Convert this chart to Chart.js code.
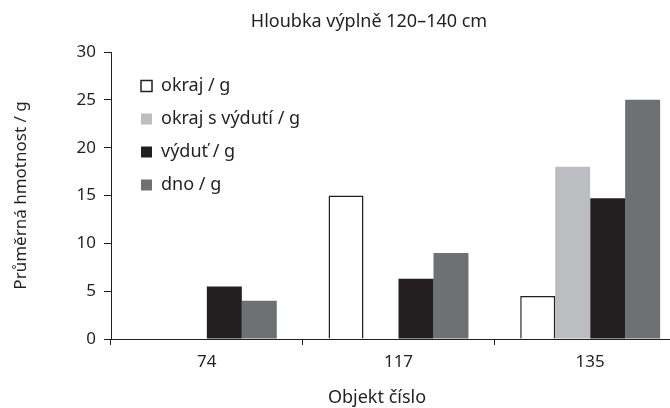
<!DOCTYPE html>
<html lang="cs">
<head>
<meta charset="UTF-8">
<title>Hloubka výplně 120–140 cm</title>
<script src="https://cdn.jsdelivr.net/npm/chart.js@4.4.0/dist/chart.umd.min.js"></script>
<style>
  html, body { margin: 0; padding: 0; overflow: hidden; background: #fff; }
  #wrap { width: 690px; height: 408px; }
</style>
</head>
<body>
<div id="wrap"><canvas id="chart"></canvas></div>
<script>
// data
const categories = ['74', '117', '135'];
const seriesNames = ['okraj / g', 'okraj s výdutí / g', 'výduť / g', 'dno / g'];
const okraj = [null, 15, 4.5];
const okrajVydut = [null, null, 18];
const vydut = [5.5, 6.3, 14.7];
const dno = [4, 9, 25];
const chartTitle = 'Hloubka výplně 120–140 cm';
const xTitle = 'Objekt číslo';
const yTitle = 'Průměrná hmotnost / g';

const ink = '#231f20';
const font = 'Noto Sans';

// titles placed as in the original figure (not centred on the plot)
const textPlugin = {
    id: 'texts',
    afterDraw(chart) {
        const ctx = chart.ctx;
        ctx.save();
        ctx.fillStyle = ink;
        ctx.textAlign = 'center';
        ctx.textBaseline = 'middle';
        ctx.font = '18px "' + font + '"';
        ctx.fillText(chartTitle, 369, 22);
        ctx.fillText(xTitle, 377, 398);
        ctx.restore();
    }
};

// legend sits inside the plot, a bit in from the top-left corner
const legendShift = {
    id: 'legendShift',
    afterLayout(chart) {
        const lg = chart.legend;
        const h = lg.bottom - lg.top;
        lg.left = chart.chartArea.left + 15;
        lg.top = chart.chartArea.top + 10;
        lg.bottom = lg.top + h;
    }
};

new Chart(document.getElementById('chart'), {
    type: 'bar',
    data: {
        labels: categories,
        datasets: [
            { label: seriesNames[0], data: okraj, backgroundColor: '#ffffff', borderColor: ink, borderWidth: 1.5 },
            { label: seriesNames[1], data: okrajVydut, backgroundColor: '#bcbdc0', borderWidth: 0 },
            { label: seriesNames[2], data: vydut, backgroundColor: ink, borderWidth: 0 },
            { label: seriesNames[3], data: dno, backgroundColor: '#6f7073', borderWidth: 0 }
        ]
    },
    options: {
        responsive: true,
        maintainAspectRatio: false,
        animation: false,
        layout: { padding: { top: 52, right: 4, left: 0, bottom: 0 } },
        datasets: { bar: { categoryPercentage: 0.73, barPercentage: 1.0 } },
        plugins: {
            title: { display: false },
            tooltip: { enabled: false },
            legend: {
                position: 'chartArea',
                align: 'start',
                labels: {
                    boxWidth: 11,
                    boxHeight: 11,
                    padding: 15,
                    color: ink,
                    font: { family: font, size: 18 }
                }
            }
        },
        scales: {
            x: {
                afterFit(scale) { scale.height = 69; },
                grid: { display: true, drawOnChartArea: false, offset: true, color: ink, tickLength: 6 },
                border: { display: true, color: ink, width: 1 },
                ticks: { color: ink, padding: 7, font: { family: font, size: 17 } },
                title: { display: false }
            },
            y: {
                min: 0,
                max: 30,
                afterFit(scale) { scale.width = 111; },
                grid: { display: true, drawOnChartArea: false, color: ink, tickLength: 7 },
                border: { display: true, color: ink, width: 1 },
                ticks: { stepSize: 5, color: ink, padding: 8, font: { family: font, size: 17 } },
                title: { display: true, text: yTitle, color: ink, padding: { top: 11, bottom: 0 }, font: { family: font, size: 17 } }
            }
        }
    },
    plugins: [textPlugin, legendShift]
});
</script>
</body>
</html>
